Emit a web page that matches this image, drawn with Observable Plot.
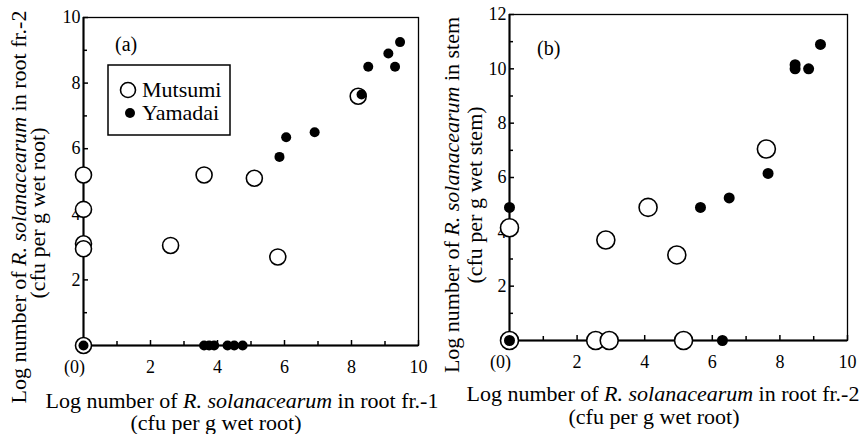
<!DOCTYPE html>
<html><head><meta charset="utf-8">
<script src="https://cdn.jsdelivr.net/npm/d3@7"></script>
<script src="https://cdn.jsdelivr.net/npm/@observablehq/plot@0.6"></script>
<style>
body{margin:0;background:#fff;}
#chart{position:relative;width:861px;height:434px;font-family:"Liberation Serif","Times New Roman",serif;}
#chart svg{position:absolute;top:0;}
</style></head><body><div id="chart"></div>
<script>
// Panel (a): root fr.-1 (x) vs root fr.-2 (y)
const mutsumiA_x = [0, 0, 0, 0, 0, 2.6, 3.6, 5.1, 5.8, 8.2];
const mutsumiA_y = [0, 5.2, 4.15, 3.1, 2.95, 3.05, 5.2, 5.1, 2.7, 7.6];
const yamadaiA_x = [0, 3.6, 3.75, 3.9, 4.3, 4.5, 4.75, 5.85, 6.05, 6.9, 8.3, 8.5, 9.1, 9.3, 9.45];
const yamadaiA_y = [0, 0, 0, 0, 0, 0, 0, 5.75, 6.35, 6.5, 7.65, 8.5, 8.9, 8.5, 9.25];
// Panel (b): root fr.-2 (x) vs stem (y)
const mutsumiB_x = [0, 0, 2.85, 4.1, 4.95, 7.6, 2.55, 2.95, 5.15];
const mutsumiB_y = [0, 4.15, 3.7, 4.9, 3.15, 7.05, 0, 0, 0];
const yamadaiB_x = [0, 0, 5.65, 6.5, 7.65, 8.45, 8.45, 8.85, 9.2, 6.3];
const yamadaiB_y = [0, 4.9, 4.9, 5.25, 6.15, 10.0, 10.15, 10.0, 10.9, 0];
// Ticks
const xMajor = [2, 4, 6, 8, 10];
const xMinor = [1, 3, 5, 7, 9];
const yMajorA = [2, 4, 6, 8, 10];
const yMinorA = [1, 3, 5, 7, 9];
const yMajorB = [2, 4, 6, 8, 10, 12];
const yMinorB = [1, 3, 5, 7, 9, 11];
const zeroTick = [0];

const toPts = (xs, ys) => xs.map((x, i) => ({x, y: ys[i]}));

function panel({width, ml, mr, mt, mb, ymax, yMajor, yMinor, mut, yam, rOpen, rFill}) {
  return Plot.plot({
    width, height: 434, marginLeft: ml, marginRight: mr, marginTop: mt, marginBottom: mb,
    x: {domain: [0, 10]}, y: {domain: [0, ymax]},
    style: {fontFamily: '"Liberation Serif", serif', fontSize: "18px", color: "black", background: "transparent", overflow: "visible"},
    marks: [
      Plot.frame({stroke: "black", strokeWidth: 1.3}),
      Plot.ruleX([0], {stroke: "black", strokeWidth: 2}),
      Plot.ruleY([0], {stroke: "black", strokeWidth: 2}),
      Plot.axisX(xMajor, {tickSize: -5, tickPadding: 20, strokeWidth: 1.5, fontSize: 18, label: null}),
      Plot.axisX(xMinor, {tickSize: -4, tickFormat: () => "", strokeWidth: 1.5, label: null}),
      Plot.axisX(zeroTick, {tickSize: 0, tickPadding: 15, dx: -9, tickFormat: () => "(0)", fontSize: 18, label: null}),
      Plot.axisY(yMajor, {tickSize: -5, tickPadding: 8, strokeWidth: 1.5, fontSize: 18, label: null}),
      Plot.axisY(yMinor, {tickSize: -4, tickFormat: () => "", strokeWidth: 1.5, label: null}),
      Plot.dot(mut, {x: "x", y: "y", r: rOpen, fill: "white", stroke: "black", strokeWidth: 1.6}),
      Plot.dot(yam, {x: "x", y: "y", r: rFill, fill: "black", stroke: "none"})
    ]
  });
}

const chart = document.getElementById("chart");
const pa = panel({width: 430, ml: 83, mr: 12, mt: 17, mb: 89, ymax: 10, yMajor: yMajorA, yMinor: yMinorA,
  mut: toPts(mutsumiA_x, mutsumiA_y), yam: toPts(yamadaiA_x, yamadaiA_y), rOpen: 8, rFill: 5});
pa.style.left = "0px";
chart.appendChild(pa);
const pb = panel({width: 431, ml: 79, mr: 14, mt: 14, mb: 94, ymax: 12, yMajor: yMajorB, yMinor: yMinorB,
  mut: toPts(mutsumiB_x, mutsumiB_y), yam: toPts(yamadaiB_x, yamadaiB_y), rOpen: 9, rFill: 5.5});
pb.style.left = "430px";
chart.appendChild(pb);

// Overlay: titles, panel labels, legend
const svg = d3.select(chart).append("svg").attr("width", 861).attr("height", 434)
  .style("left", "0px").style("font-family", '"Liberation Serif", serif').style("fill", "black");

function title(x, y, rotate, parts, size) {
  const t = svg.append("text").attr("text-anchor", "middle").attr("font-size", size)
    .attr("transform", `translate(${x},${y})` + (rotate ? " rotate(-90)" : ""));
  parts.forEach(([s, it]) => t.append("tspan").attr("font-style", it ? "italic" : null).text(s));
}
const line1 = (end) => [["Log number of ", false], ["R. solanacearum", true], [" in " + end, false]];
title(242, 408, false, line1("root fr.-1"), 22);
title(216, 430, false, [["(cfu per g wet root)", false]], 22);
title(663, 401, false, line1("root fr.-2"), 22);
title(654, 424, false, [["(cfu per g wet root)", false]], 22);
title(26, 207, true, line1("root fr.-2"), 22);
title(45, 213, true, [["(cfu per g wet root)", false]], 22);
title(459, 195, true, line1("stem"), 22);
title(482, 195, true, [["(cfu per g wet stem)", false]], 22);

svg.append("text").attr("x", 115).attr("y", 51).attr("font-size", 20).text("(a)");
svg.append("text").attr("x", 537).attr("y", 55).attr("font-size", 20).text("(b)");

// legend
svg.append("rect").attr("x", 108).attr("y", 65).attr("width", 122).attr("height", 70)
  .attr("fill", "white").attr("stroke", "black").attr("stroke-width", 1.5);
svg.append("circle").attr("cx", 128).attr("cy", 90).attr("r", 7.5).attr("fill", "white").attr("stroke", "black").attr("stroke-width", 1.6);
svg.append("circle").attr("cx", 130).attr("cy", 113).attr("r", 5).attr("fill", "black");
svg.append("text").attr("x", 142).attr("y", 97).attr("font-size", 22).text("Mutsumi");
svg.append("text").attr("x", 142).attr("y", 120).attr("font-size", 22).text("Yamadai");
</script></body></html>
